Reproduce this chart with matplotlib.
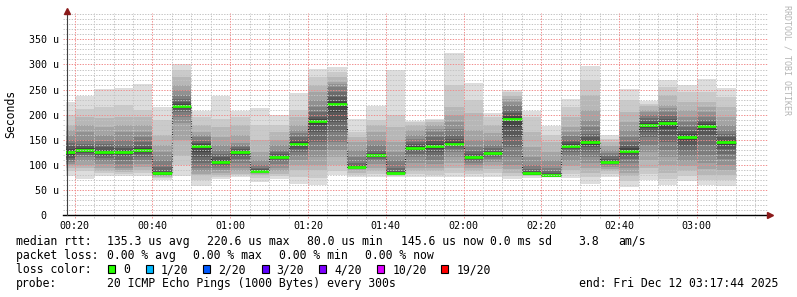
import matplotlib
matplotlib.use("Agg")
import matplotlib.pyplot as plt
from matplotlib.patches import Rectangle
import numpy as np
import pandas as pd

W, H = 797, 297
MONO = "DejaVu Sans Mono"

# one smoke bar per 5 minute step (bar start times)
bar_times = pd.date_range("2025-12-12 00:15", "2025-12-12 03:05", freq="5min")
t_start = pd.Timestamp("2025-12-12 00:17:44")
t_end = pd.Timestamp("2025-12-12 03:17:44")

# median rtt per step, in microseconds
median_rtt = [125, 130, 125, 125, 130, 84, 217, 138, 106, 125,
              89, 115, 142, 187, 220.6, 97, 119, 85, 134, 138,
              142, 115, 123, 192, 84, 80.0, 138, 146, 107, 128,
              180, 183, 155, 178, 145.6]

# the 20 sorted ping times per step
pings = [
    [79, 88, 95, 100, 103, 106, 110, 114, 118, 122, 128, 132, 138, 144, 150, 160, 170, 180, 200, 225],
    [72, 88, 95, 100, 108, 115, 120, 124, 127, 129, 131, 134, 137, 142, 150, 165, 180, 195, 211, 237],
    [79, 84, 88, 95, 102, 108, 113, 118, 122, 124, 126, 130, 136, 142, 148, 160, 175, 193, 215, 252],
    [79, 82, 86, 90, 95, 102, 110, 117, 121, 124, 126, 129, 133, 140, 150, 165, 180, 195, 220, 254],
    [79, 85, 90, 97, 103, 110, 116, 121, 126, 129, 131, 134, 138, 145, 155, 165, 180, 195, 209, 262],
    [70, 74, 77, 79, 80, 81, 82, 83, 83, 84, 85, 87, 90, 97, 110, 125, 140, 160, 190, 216],
    [78, 100, 117, 150, 183, 195, 205, 210, 214, 216, 219, 222, 225, 232, 240, 250, 260, 275, 290, 300],
    [59, 70, 80, 83, 88, 95, 105, 115, 125, 136, 139, 141, 143, 148, 155, 160, 166, 180, 195, 208],
    [73, 77, 80, 85, 90, 95, 99, 102, 104, 105, 107, 110, 115, 122, 130, 140, 155, 175, 191, 237],
    [77, 80, 83, 88, 95, 105, 112, 118, 122, 124, 126, 128, 131, 135, 139, 143, 160, 180, 195, 208],
    [67, 75, 80, 83, 85, 86, 87, 88, 88, 89, 89, 90, 92, 95, 100, 110, 125, 150, 180, 214],
    [73, 78, 82, 88, 95, 102, 108, 111, 113, 114, 116, 118, 121, 125, 130, 140, 150, 165, 180, 200],
    [63, 77, 90, 100, 110, 118, 125, 132, 137, 140, 143, 146, 150, 155, 163, 170, 180, 196, 210, 244],
    [60, 75, 90, 100, 115, 130, 145, 165, 180, 186, 189, 192, 196, 205, 215, 230, 245, 260, 276, 292],
    [80, 88, 100, 115, 130, 145, 165, 185, 205, 218, 223, 228, 235, 245, 255, 262, 266, 275, 285, 294],
    [77, 80, 85, 90, 93, 94, 95, 96, 96, 97, 97, 98, 100, 105, 115, 130, 146, 156, 166, 191],
    [77, 82, 88, 95, 102, 108, 112, 115, 117, 118, 119, 121, 124, 130, 140, 150, 165, 180, 190, 217],
    [77, 79, 80, 81, 82, 83, 83, 84, 84, 85, 85, 86, 88, 95, 110, 125, 145, 175, 200, 289],
    [77, 82, 88, 95, 105, 115, 122, 128, 131, 133, 136, 138, 141, 146, 152, 160, 170, 180, 185, 188],
    [77, 80, 88, 95, 103, 110, 118, 126, 132, 137, 139, 142, 147, 155, 165, 172, 180, 186, 190, 192],
    [77, 85, 95, 105, 115, 125, 132, 137, 140, 141, 143, 146, 152, 160, 172, 186, 200, 216, 260, 322],
    [77, 82, 88, 95, 100, 105, 108, 111, 113, 114, 115, 118, 122, 128, 135, 150, 170, 203, 230, 264],
    [77, 85, 92, 100, 107, 112, 116, 119, 121, 122, 123, 125, 128, 133, 140, 150, 163, 180, 195, 203],
    [72, 78, 85, 92, 100, 115, 135, 155, 175, 190, 194, 198, 203, 210, 219, 226, 232, 238, 245, 250],
    [75, 78, 80, 81, 82, 83, 83, 84, 84, 84, 85, 86, 88, 92, 100, 115, 135, 165, 195, 208],
    [77, 78, 79, 79, 80, 80, 80, 81, 81, 81, 81, 82, 84, 88, 95, 110, 125, 145, 160, 178],
    [75, 82, 90, 98, 108, 118, 125, 131, 135, 138, 139, 141, 145, 150, 158, 165, 176, 195, 215, 231],
    [63, 77, 85, 95, 105, 115, 125, 135, 140, 144, 147, 150, 155, 162, 175, 190, 210, 240, 270, 296],
    [77, 82, 88, 93, 97, 100, 102, 104, 105, 106, 107, 109, 112, 117, 123, 130, 138, 145, 152, 160],
    [57, 68, 78, 85, 95, 105, 112, 118, 123, 127, 129, 133, 138, 145, 155, 170, 185, 205, 230, 252],
    [71, 82, 95, 110, 125, 140, 155, 165, 173, 179, 181, 184, 188, 193, 200, 205, 210, 217, 222, 227],
    [60, 72, 85, 100, 115, 130, 145, 160, 172, 181, 184, 188, 192, 198, 205, 213, 220, 240, 255, 270],
    [68, 78, 88, 98, 108, 118, 128, 138, 147, 153, 157, 162, 168, 176, 185, 195, 210, 225, 245, 260],
    [61, 70, 80, 92, 105, 120, 140, 160, 170, 176, 179, 182, 186, 190, 195, 205, 215, 225, 245, 271],
    [59, 70, 80, 90, 100, 112, 122, 132, 140, 145, 147, 150, 156, 162, 170, 180, 195, 215, 235, 253],
]

tick_labels = ["00:20", "00:40", "01:00", "01:20", "01:40", "02:00", "02:20", "02:40", "03:00"]
ytick_vals = [0, 50, 100, 150, 200, 250, 300, 350]
ytick_labels = ["0  ", "50 u", "100 u", "150 u", "200 u", "250 u", "300 u", "350 u"]

loss_labels = ["0", "1/20", "2/20", "3/20", "4/20", "10/20", "19/20"]
loss_colors = ["#26ff00", "#00b8ff", "#0059ff", "#5e00ff", "#7e00ff", "#dd00ff", "#ff0000"]

rtt_stats = ["135.3 us avg", "220.6 us max", "80.0 us min", "145.6 us now", "0.0 ms sd", "3.8", "am/s"]
loss_stats = ["0.00 % avg", "0.00 % max", "0.00 % min", "0.00 % now"]
probe_text = "20 ICMP Echo Pings (1000 Bytes) every 300s"
end_text = "end: Fri Dec 12 03:17:44 2025"


def minutes(ts):
    return (ts - ts.normalize()).total_seconds() / 60.0


def fx(x):
    return x / W


def fy(y):
    return 1 - y / H


x0 = np.array([minutes(t) for t in bar_times])
xmin, xmax = minutes(t_start), minutes(t_end)
ticks = [int(s[:2]) * 60 + int(s[3:]) for s in tick_labels]

fig = plt.figure(figsize=(W / 100, H / 100), dpi=100)
fig.patch.set_facecolor("white")
left, right, y_zero, y_top = 65.8, 765.8, 215.3, 13.0
ax = fig.add_axes([fx(left), fy(y_zero), (right - left) / W, (y_zero - y_top) / H])
ax.set_xlim(xmin, xmax)
ax.set_ylim(0, 402.4)
for s in ax.spines.values():
    s.set_visible(False)

# smoke: outer pairs light, inner pairs dark (smokeping shading)
p = np.array(pings)
half = 10
for i in range(half):
    g = int(190 / half * (half - (i + 1))) + 50
    col = "#%02x%02x%02x" % (g, g, g)
    ax.bar(x0, p[:, 19 - i] - p[:, i], bottom=p[:, i], width=5, align="edge",
           color=col, linewidth=0, antialiased=False, zorder=2)

# median: dark staircase plus loss-coloured segments
xs = np.append(x0, x0[-1] + 5)
ys = np.append(median_rtt, median_rtt[-1])
ax.step(xs, ys, where="post", color="#1a1a1a", lw=0.8, ls=(0, (1, 1)), zorder=3)
ax.hlines(np.array(median_rtt) - 1.2, x0, x0 + 5, color="#1a1a1a", lw=0.8, zorder=3)
ax.hlines(median_rtt, x0, x0 + 5, color=loss_colors[0], lw=2.0, zorder=4)

# grid drawn over the graph, rrdtool style
dots = (0, (1.4, 1.4))
for v in range(10, 410, 10):
    major = v % 50 == 0 and v <= 350
    ax.axhline(v, xmin=-0.004, xmax=1.003, clip_on=False, lw=0.7, ls=dots,
               color="#f08c8c" if major else "#c4c4c4", zorder=5)
for m in range(20, int(xmax) + 1, 5):
    major = m in ticks
    ax.axvline(m, ymin=-0.012, ymax=1, clip_on=False, lw=0.7, ls=dots,
               color="#f08c8c" if major else "#c4c4c4", zorder=5)

# axes with arrow heads
ax.plot([-0.004, 1.004], [0, 0], transform=ax.transAxes, color="black", lw=1.0,
        clip_on=False, zorder=6)
ax.plot([0.0013, 0.0013], [0, 1.0], transform=ax.transAxes, color="#404040", lw=0.8,
        clip_on=False, zorder=6)
ax.plot([1.006], [0], transform=ax.transAxes, marker=">", ms=4.5, color="#8b1a1a",
        mec="#8b1a1a", clip_on=False, zorder=7)
ax.plot([0.0013], [1.01], transform=ax.transAxes, marker="^", ms=4.5, color="#8b1a1a",
        mec="#8b1a1a", clip_on=False, zorder=7)

ax.set_xticks(ticks)
ax.set_xticklabels(tick_labels, family=MONO, fontsize=7.2)
ax.set_yticks(ytick_vals)
ax.set_yticklabels(ytick_labels, family=MONO, fontsize=7.2)
ax.tick_params(axis="x", length=0, pad=4)
ax.tick_params(axis="y", length=0, pad=5)

fig.text(fx(11), fy(113.5), "Seconds", rotation=90, ha="center", va="center",
         family=MONO, fontsize=8.3)
fig.text(fx(787.5), fy(60), "RRDTOOL / TOBI OETIKER", rotation=270, ha="center",
         va="center", family=MONO, fontsize=6, color="#b4b4b4")

# legend block
fs = 8.3
rows = [245.0, 259.3, 273.3, 287.3]
fig.text(fx(16), fy(rows[0]), "median rtt:", family=MONO, fontsize=fs, va="baseline")
for x, s in zip([107.3, 207.3, 306.7, 401.0, 489.7, 578.7, 618.7], rtt_stats):
    fig.text(fx(x), fy(rows[0]), s, family=MONO, fontsize=fs, va="baseline")

fig.text(fx(16), fy(rows[1]), "packet loss:", family=MONO, fontsize=fs, va="baseline")
for x, s in zip([107.3, 193.3, 279.3, 365.0], loss_stats):
    fig.text(fx(x), fy(rows[1]), s, family=MONO, fontsize=fs, va="baseline")

fig.text(fx(16), fy(rows[2]), "loss color:", family=MONO, fontsize=fs, va="baseline")
box_x = [108.3, 145.7, 203.3, 261.7, 319.3, 377.3, 441.3]
for bx, lab, col in zip(box_x, loss_labels, loss_colors):
    fig.patches.append(Rectangle((fx(bx), fy(273.3)), 7 / W, 8 / H, transform=fig.transFigure,
                                 facecolor=col, edgecolor="black", lw=0.8))
    fig.text(fx(bx + 15), fy(rows[2]), lab, family=MONO, fontsize=fs, va="baseline")

fig.text(fx(16), fy(rows[3]), "probe:", family=MONO, fontsize=fs, va="baseline")
fig.text(fx(107.3), fy(rows[3]), probe_text, family=MONO, fontsize=fs, va="baseline")
fig.text(fx(578.7), fy(rows[3]), end_text, family=MONO, fontsize=fs, va="baseline")

fig.savefig("out.png", dpi=100, facecolor="white")
